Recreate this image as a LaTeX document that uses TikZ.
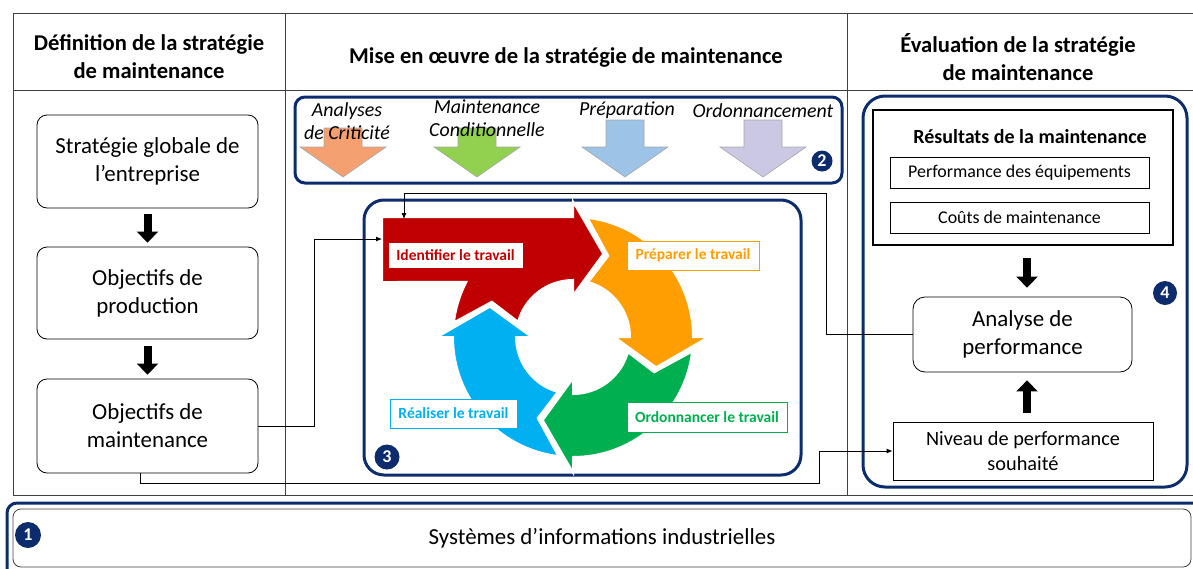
\documentclass[tikz,border=0pt]{standalone}
\usepackage{fontspec}
\setmainfont{Carlito}
\usetikzlibrary{arrows.meta,calc}
\definecolor{mtnavy}{HTML}{0D2C6C}
\definecolor{mtgrid}{HTML}{404040}
\definecolor{mtred}{HTML}{C00000}
\definecolor{mtorange}{HTML}{FF9E00}
\definecolor{mtgreen}{HTML}{00B050}
\definecolor{mtblue}{HTML}{00B0F0}
\definecolor{mtsalmon}{HTML}{F4A070}
\definecolor{mtlime}{HTML}{92D050}
\definecolor{mtsky}{HTML}{9DC3E6}
\definecolor{mtlilac}{HTML}{CBC8E4}
\newcommand{\fsz}[2]{\fontsize{#1}{#2}\selectfont}

\begin{document}
\begin{tikzpicture}[x=1pt, y=-1pt,
    navyframe/.style={draw=mtnavy, line width=3pt, rounded corners=#1},
    rbox/.style={draw, line width=0.8pt, rounded corners=10pt, align=center, inner sep=0pt},
    sbox/.style={draw, line width=0.8pt, align=center, inner sep=0pt},
    colhead/.style={font=\fsz{22.6}{28}\bfseries, align=center},
    badge/.style={circle, fill=mtnavy, text=white, inner sep=0pt, minimum size=#1, font=\fsz{18}{18}\bfseries},
    blk/.style={line width=8pt, -{Triangle[length=11pt, width=21pt]}},
    conn/.style={line width=0.8pt, -{Latex[length=6pt, width=5pt]}},
    tag/.style={draw=#1, fill=white, text=#1, line width=1pt, inner sep=0pt, font=\fsz{15.5}{15.5}\bfseries},
    ring/.style={fill=#1, draw=white, line width=2pt},
    ilbl/.style={font=\fsz{19.9}{23.5}\itshape, align=center}]
  \useasboundingbox (0,0) rectangle (1193,568);
  \clip (0,0) rectangle (1193,568);

  % table
  \draw[mtgrid, line width=1pt] (13,13) rectangle (1197,495)
    (13,90) -- (1197,90) (285,13) -- (285,495) (847,13) -- (847,495);
  \node[colhead] (h1) at (149,57) {Définition de la stratégie\\de maintenance};
  \node[colhead] (h2) at (566,57) {Mise en œuvre de la stratégie de maintenance};
  \node[colhead] (h3) at (1018,57) {Évaluation de la stratégie\\de maintenance};

  % definition column
  \node[rbox, minimum width=221pt, minimum height=93pt, font=\fsz{22.9}{28}] (s1) at (147.5,161.5) {Stratégie globale de\\l’entreprise};
  \node[rbox, minimum width=221pt, minimum height=92pt, font=\fsz{22.9}{28}] (o2) at (147.5,293) {Objectifs de\\production};
  \node[rbox, minimum width=221pt, minimum height=94pt, font=\fsz{22.9}{28}] (o3) at (147.5,426) {Objectifs de\\maintenance};
  \draw[blk] ([yshift=-6pt]s1.south) -- ([yshift=4pt]o2.north);
  \draw[blk] ([yshift=-7pt]o2.south) -- ([yshift=4pt]o3.north);

  % levers (2)
  \draw[navyframe=10pt] (295,97) rectangle (842,183);
  \foreach \cx/\top/\col in {343/128/mtsalmon, 477/128/mtlime, 625/120/mtsky, 763/120/mtlilac}
    \filldraw[fill=\col, draw=gray!70, line width=0.6pt] (\cx-19,\top) -- (\cx+19,\top) -- (\cx+19,147)
      -- (\cx+43,147) -- (\cx,177) -- (\cx-43,147) -- (\cx-19,147) -- cycle;
  \node[ilbl] (crit) at (347,121) {Analyses\\de Criticité};
  \node[ilbl] (cond) at (487,118) {Maintenance\\Conditionnelle};
  \node[ilbl] (prepa) at (627,110) {Préparation};
  \node[ilbl] (ordo) at (763,111) {Ordonnancement};
  \node[badge=21pt] (b2) at (822,161) {2};

  % work cycle (3)
  \draw[navyframe=20pt] (364,200) rectangle (801,475);
  \begin{scope}[shift={(573,337)}, y=1pt]
    \path[ring=mtred] (-191,120) -- (90:120) -- (90:135.5) -- (70:88.5) -- (90:41.5) -- (90:57)
      arc[start angle=90, end angle=164.5, radius=57] -- (156.5:88.5) -- (173:120)
      arc[start angle=173, end angle=152.7, radius=120] -- (-191,55) -- cycle;
    \foreach \col/\so/\si/\nt/\b in {mtorange/83/74.5/66.5/0, mtgreen/-7/-15.5/-23.5/-90, mtblue/-97/-105.5/-113.5/-180}
      \path[ring=\col] (\so:120) arc[start angle=\so, end angle=\b, radius=120] -- (\b:135.5)
        -- (\b-20:88.5) -- (\b:41.5) -- (\b:57) arc[start angle=\b, end angle=\si, radius=57]
        -- (\nt:88.5) -- cycle;
  \end{scope}
  \node[tag=mtred, minimum width=135pt, minimum height=26pt] (idt) at (455.5,255) {Identifier le travail};
  \node[tag=mtorange, minimum width=132pt, minimum height=29pt] (prt) at (693,255.5) {Préparer le travail};
  \node[tag=mtgreen, minimum width=160pt, minimum height=30pt] (ort) at (707,417) {Ordonnancer le travail};
  \node[tag=mtblue, minimum width=127pt, minimum height=29pt] (rlt) at (453.5,413.5) {Réaliser le travail};
  \node[badge=25pt] (b3) at (387,457) {3};
  \coordinate (idin) at (382,239);
  \coordinate (idtop) at (404,219);

  % evaluation (4)
  \draw[navyframe=22pt] (863,96) rectangle (1187,487);
  \node[draw, line width=2.5pt, minimum width=300pt, minimum height=135pt, inner sep=0pt] (res) at (1023,177.5) {};
  \node[font=\fsz{20}{24}\bfseries] (rest) at (1030,137) {Résultats de la maintenance};
  \node[sbox, minimum width=259pt, minimum height=31pt, font=\fsz{17.9}{21}] (perf) at (1019.5,172.5) {Performance des équipements};
  \node[sbox, minimum width=259pt, minimum height=31pt, font=\fsz{17.9}{21}] (cout) at (1019.5,217.5) {Coûts de maintenance};
  \node[rbox, rounded corners=12pt, minimum width=219pt, minimum height=75pt, font=\fsz{22.9}{28}] (ana) at (1022.5,334.5) {Analyse de\\performance};
  \node[sbox, minimum width=260pt, minimum height=58pt, font=\fsz{20.3}{25}] (niv) at (1023,451) {Niveau de performance\\souhaité};
  \node[badge=24pt] (b4) at (1165,293) {4};
  \draw[blk] ([xshift=4pt,yshift=-12pt]res.south) -- ([xshift=4.5pt,yshift=9pt]ana.north);
  \draw[blk] ([xshift=4pt,yshift=9pt]niv.north) -- ([xshift=4.5pt,yshift=-8pt]ana.south);

  % links
  \draw[conn] (o3.east) -- ++(56,0) |- (idin);
  \draw[conn] (ana.west) -| (826,193) -| (idtop);
  \draw[conn] ([xshift=-7.5pt]o3.south) |- (819,483) |- (niv.west);

  % information systems (1)
  \draw[navyframe=10pt] (7,503) rectangle (1215,600);
  \node[draw=mtgrid, rounded corners=8pt, line width=0.8pt, minimum width=1178pt, minimum height=58pt,
    font=\fsz{22.9}{28}] (sys) at (602,538) {Systèmes d’informations industrielles};
  \node[badge=26pt] (b1) at (28,535) {1};
\end{tikzpicture}
\end{document}
